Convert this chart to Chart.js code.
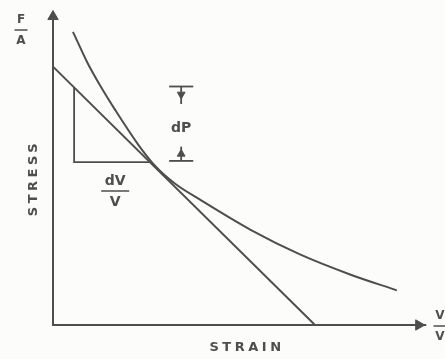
<!DOCTYPE html>
<html>
<head>
<meta charset="utf-8">
<script src="https://cdn.jsdelivr.net/npm/chart.js@4.4.0/dist/chart.umd.min.js"></script>
<style>
    html, body { margin: 0; padding: 0; background: #fcfcfa; }
    #wrap { width: 445px; height: 359px; }
</style>
</head>
<body>
<div id="wrap"><canvas id="stressChart"></canvas></div>
<script>
// Stress-strain curve (arbitrary units, 0..10 on both axes)
const curveX = [0.53, 0.90, 1.25, 1.64, 2.25, 2.71, 3.24, 3.90, 5.23, 6.55, 7.88, 9.12];
const curveY = [9.22, 8.28, 7.53, 6.78, 5.69, 5.00, 4.44, 3.94, 3.00, 2.22, 1.59, 1.09];

// Tangent line at the point of contact
const tangentX = [0, 6.95];
const tangentY = [8.125, 0];

// Slope triangle under the tangent
const triangleX = [0.56, 0.56, 2.57];
const triangleY = [7.47, 5.125, 5.125];

// dP dimension marker
const dpX = 3.40;
const dpTop = 7.5;
const dpBottom = 5.16;

const ink = '#4e4e4e';

const toPoints = (xs, ys) => xs.map((v, i) => ({x: v, y: ys[i]}));

function lineSet(data, extra) {
    return Object.assign({
        data: data,
        showLine: true,
        borderColor: ink,
        borderWidth: 2,
        pointRadius: 0,
        fill: false
    }, extra || {});
}

// text labels drawn on top of the lines
const diagramLabels = {
    id: 'diagramLabels',
    afterDatasetsDraw(chart) {
        const {ctx, scales: {x, y}} = chart;
        const x0 = x.getPixelForValue(0);
        const y0 = y.getPixelForValue(0);
        ctx.save();
        ctx.fillStyle = ink;
        ctx.strokeStyle = ink;
        ctx.lineWidth = 1.5;
        ctx.textAlign = 'center';
        ctx.textBaseline = 'middle';

        function fraction(top, bottom, cx, cy, w) {
            ctx.fillText(top, cx, cy - 10);
            ctx.beginPath();
            ctx.moveTo(cx - w / 2, cy);
            ctx.lineTo(cx + w / 2, cy);
            ctx.stroke();
            ctx.fillText(bottom, cx, cy + 11);
        }

        ctx.font = 'bold 12px "DejaVu Sans"';
        fraction('F', 'A', x0 - 32, 30, 13);
        fraction('V', 'V', x.right + 10, y0 + 1, 13);

        ctx.font = 'bold 13px "DejaVu Sans"';
        ctx.letterSpacing = '3.5px';
        ctx.fillText('STRAIN', 247, y0 + 23);
        ctx.save();
        ctx.translate(x0 - 19, 180);
        ctx.rotate(-Math.PI / 2);
        ctx.fillText('STRESS', 2, 0);
        ctx.restore();
        ctx.letterSpacing = '0px';

        ctx.font = 'bold 14px "DejaVu Sans"';
        ctx.fillText('dP', x.getPixelForValue(dpX), y.getPixelForValue((dpTop + dpBottom) / 2) + 5);
        fraction('dV', 'V', x.getPixelForValue(1.65), 191, 28);
        ctx.restore();
    }
};

const halfBar = 0.32;

new Chart(document.getElementById('stressChart'), {
    type: 'scatter',
    data: {
        datasets: [
            // axes
            lineSet([{x: 0, y: 9.6}, {x: 0, y: 0}, {x: 9.9, y: 0}]),
            lineSet([{x: 0, y: 9.7}, {x: 9.7, y: 0}], {
                showLine: false,
                pointStyle: 'triangle',
                pointRadius: 6,
                pointRotation: [0, 90],
                backgroundColor: ink,
                borderWidth: 1
            }),
            lineSet(toPoints(curveX, curveY), {cubicInterpolationMode: 'monotone'}),
            lineSet(toPoints(tangentX, tangentY)),
            lineSet(toPoints(triangleX, triangleY), {borderWidth: 1.8}),
            // dP marker bars and stems
            lineSet([{x: dpX - halfBar, y: dpTop}, {x: dpX + halfBar, y: dpTop}], {borderWidth: 1.8}),
            lineSet([{x: dpX - halfBar, y: dpBottom}, {x: dpX + halfBar, y: dpBottom}], {borderWidth: 1.8}),
            lineSet([{x: dpX, y: dpTop}, {x: dpX, y: dpTop - 0.55}], {borderWidth: 1.8}),
            lineSet([{x: dpX, y: dpBottom}, {x: dpX, y: dpBottom + 0.45}], {borderWidth: 1.8}),
            lineSet([{x: dpX, y: dpTop - 0.25}, {x: dpX, y: dpBottom + 0.22}], {
                showLine: false,
                pointStyle: 'triangle',
                pointRadius: 4.5,
                pointRotation: [180, 0],
                backgroundColor: ink,
                borderWidth: 1
            })
        ]
    },
    options: {
        responsive: true,
        maintainAspectRatio: false,
        animation: false,
        clip: false,
        layout: {padding: {left: 53, right: 15, top: 5, bottom: 34}},
        scales: {
            x: {type: 'linear', min: 0, max: 10, display: false},
            y: {type: 'linear', min: 0, max: 10, display: false}
        },
        plugins: {
            legend: {display: false},
            tooltip: {enabled: false}
        }
    },
    plugins: [diagramLabels]
});
</script>
</body>
</html>
